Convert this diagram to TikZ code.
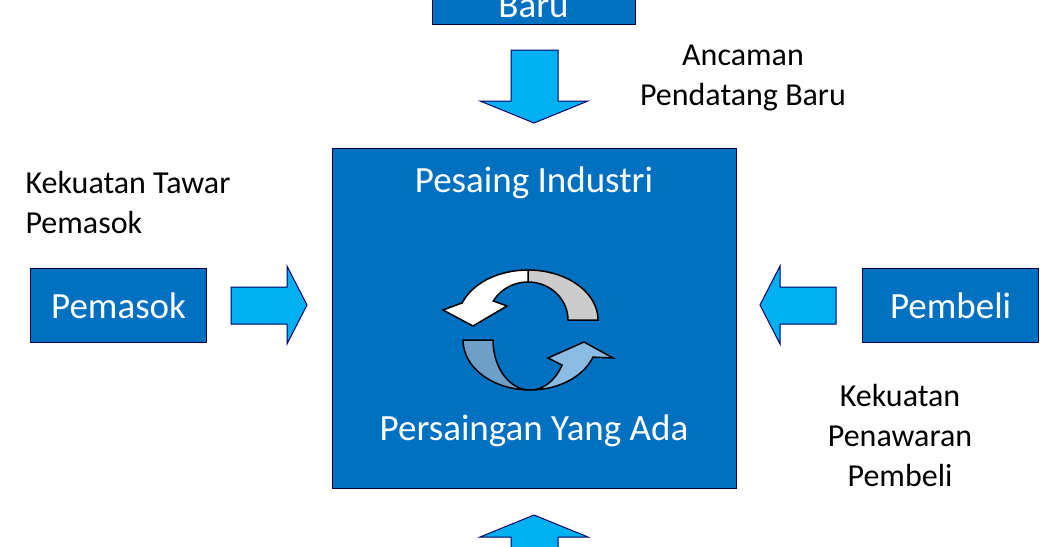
\documentclass[tikz,border=0pt]{standalone}
\usepackage{fontspec}
\setmainfont{Carlito}
\begin{document}
\begin{tikzpicture}[x=1pt,y=-1pt,
  box/.style={draw=black!70!blue,line width=1.2pt,fill=boxblue},
  barrow/.style={draw=black!60!blue,line width=1pt,fill=arrblue},
  wtxt/.style={text=white,font=\fontsize{37}{40}\selectfont},
  btxt/.style={text=black,font=\fontsize{32}{40}\selectfont,align=center},
  cyc/.style={draw=black,line width=1.5pt}]
\definecolor{boxblue}{HTML}{0070C0}
\definecolor{arrblue}{HTML}{00B0F0}
\definecolor{cycA}{HTML}{6E9FC8}
\definecolor{cycB}{HTML}{8BBCE3}
\useasboundingbox (0,0) rectangle (1040,546);
\clip (0,0) rectangle (1040,546);
% boxes
\node[box,minimum width=203pt,minimum height=40pt,anchor=south west] (top) at (432,25) {};
\node[wtxt,anchor=base] (baru) at (533.5,17) {Baru};
\node[box,minimum width=404pt,minimum height=340pt,anchor=north west] (center) at (332,148) {};
\node[wtxt,anchor=base] (pi) at (534,192) {Pesaing Industri};
\node[wtxt,anchor=base] (pya) at (534,440) {Persaingan Yang Ada};
\node[box,minimum width=176pt,minimum height=74pt,anchor=north west] (pem) at (30,268) {};
\node[wtxt] at (pem.center) {Pemasok};
\node[box,minimum width=176pt,minimum height=74pt,anchor=north west] (pbl) at (862,268) {};
\node[wtxt] at (pbl.center) {Pembeli};
% texts
\node[btxt,anchor=base] (t1) at (743,105) {Ancaman\\Pendatang Baru};
\node[btxt,anchor=base west,align=left] (t2) at (22,233) {Kekuatan Tawar\\Pemasok};
\node[btxt,anchor=base] (t3) at (900,486) {Kekuatan\\Penawaran\\Pembeli};
% block arrows
\draw[barrow] (511,50) -- (558,50) -- (558,101) -- (588,101) -- (534,123) -- (480,101) -- (511,101) -- cycle;
\draw[barrow] (511,560) -- (558,560) -- (558,537) -- (588,537) -- (534,515) -- (480,537) -- (511,537) -- cycle;
\draw[barrow] (231,287) -- (287,287) -- (287,266) -- (307,305) -- (287,344) -- (287,324) -- (231,324) -- cycle;
\draw[barrow] (836,287) -- (780,287) -- (780,266) -- (760,305) -- (780,344) -- (780,324) -- (836,324) -- cycle;
% cycle arrows
\draw[cyc,fill=black!20] plot[domain=0:90,smooth] ({528+70*cos(\x)},{320-50*sin(\x)}) -- plot[domain=90:0,smooth] ({528+40*cos(\x)},{320-38*sin(\x)}) -- cycle;
\draw[cyc,fill=white] plot[domain=90:160,smooth] ({528+70*cos(\x)},{320-50*sin(\x)}) -- (443,310) -- (473,326) -- (507,306) -- plot[domain=150:90,smooth] ({528+40*cos(\x)},{320-38*sin(\x)}) -- cycle;
\draw[cyc,fill=cycA] plot[domain=180:270,smooth] ({530+67*cos(\x)},{340-50*sin(\x)}) -- plot[domain=270:180,smooth] ({530+37*cos(\x)},{340-50*sin(\x)}) -- cycle;
\draw[cyc,fill=cycB] plot[domain=270:340,smooth] ({530+67*cos(\x)},{340-50*sin(\x)}) -- (613,358) -- (584,342) -- (548,358) -- plot[domain=330:270,smooth] ({530+37*cos(\x)},{340-50*sin(\x)}) -- cycle;
\end{tikzpicture}
\end{document}
